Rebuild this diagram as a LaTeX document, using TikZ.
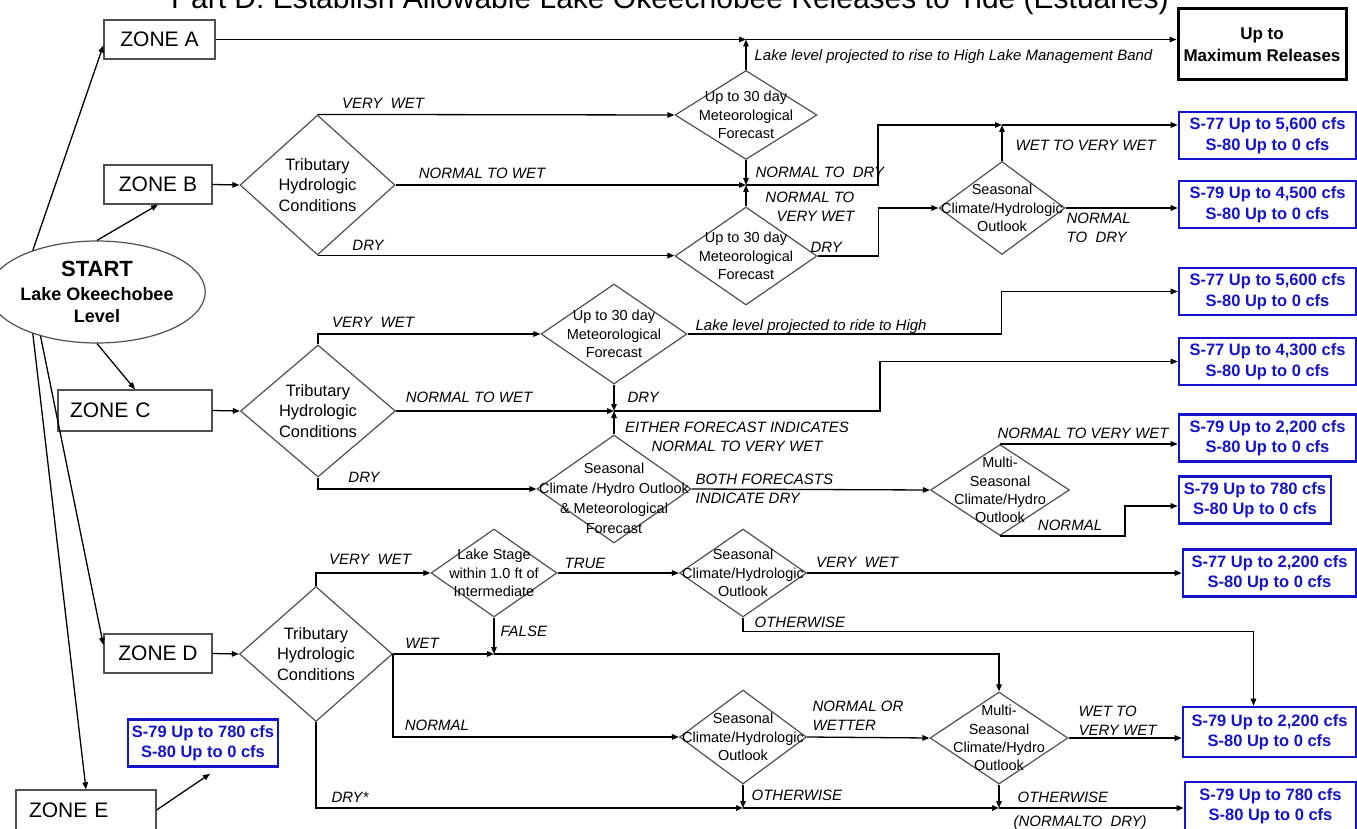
\documentclass[tikz,border=0pt]{standalone}
\usepackage{fontspec}
\setmainfont{Liberation Sans}
\usetikzlibrary{shapes.geometric, positioning, arrows.meta}
\definecolor{relblue}{RGB}{20,20,205}
\definecolor{linegray}{RGB}{80,80,80}
\tikzset{
terminal/.style={ellipse, draw=linegray, line width=1.2pt, minimum width=173pt, minimum height=102pt, inner sep=0, align=center, font=\bfseries\fontsize{18}{22}\selectfont},
zone/.style={shape=rectangle, draw=linegray, line width=1.3pt, minimum height=39pt, inner sep=0, font=\fontsize{21}{24}\selectfont},
decision/.style 2 args={diamond, draw=linegray, line width=1.2pt, minimum width=#1, minimum height=#2, inner sep=0},
dtext/.style={align=center, font=\fontsize{14.5}{18.3}\selectfont},
ttext/.style={align=center, font=\fontsize{16.5}{20.7}\selectfont},
result/.style={draw=relblue, line width=2.6pt, text=relblue, align=center, minimum width=177pt, minimum height=47pt, inner sep=0, font=\bfseries\fontsize{16.5}{20.5}\selectfont},
maxbox/.style={draw, line width=3pt, minimum width=168pt, minimum height=71pt, align=center, font=\bfseries\fontsize{17}{22}\selectfont},
cond/.style={inner sep=0, font=\itshape\fontsize{15}{19}\selectfont}}

\begin{document}
\begin{tikzpicture}[x=1pt, y=-1pt, line width=1.3pt, >={Triangle[length=7pt, width=5.5pt]}]
\fill[white] (0,0) rectangle (1357,829);
\useasboundingbox (0,0) rectangle (1357,829);

\node[anchor=base, font=\fontsize{30}{34}\selectfont] (title) at (670,9) {Part D: Establish Allowable Lake Okeechobee Releases to Tide (Estuaries)};
\node[terminal] (start) at (97,292) {{\fontsize{22}{26}\selectfont START}\\[2pt] Lake Okeechobee\\ Level};

\node[zone, minimum width=111pt] (zone-a) at (159.5,39.5) {ZONE A};
\node[zone, minimum width=108pt] (zone-b) at (158,184.5) {ZONE B};
\node[zone, minimum width=154pt, minimum height=41pt, text width=130pt] (zone-c) at (135,410.5) {ZONE C};
\node[zone, minimum width=108pt] (zone-d) at (158,653.5) {ZONE D};
\node[zone, minimum width=140pt, minimum height=40pt, text width=114pt] (zone-e) at (86,810) {ZONE E};
\node[maxbox] (maxrel) at (1262,44.5) {Up to\\Maximum Releases};

\node[decision={155pt}{140pt}, label={[ttext]center:Tributary\\Hydrologic\\Conditions}] (trib-b) at (317.5,185) {};
\node[decision={142pt}{89pt}, label={[dtext]center:Up to 30 day\\Meteorological\\Forecast}] (met-b1) at (746,115) {};
\node[decision={142pt}{98pt}, label={[dtext]center:Up to 30 day\\Meteorological\\Forecast}] (met-b2) at (746,256) {};
\node[decision={126pt}{93pt}, label={[dtext]center:Seasonal\\Climate/Hydrologic\\Outlook}] (sea-b) at (1002,208) {};
\node[result] (s77-b) at (1267.5,135.5) {S-77 Up to 5,600 cfs\\S-80 Up to 0 cfs};
\node[result] (s79-b) at (1267.5,204.5) {S-79 Up to 4,500 cfs\\S-80 Up to 0 cfs};

\node[decision={155pt}{132pt}, label={[ttext]center:Tributary\\Hydrologic\\Conditions}] (trib-c) at (318,411) {};
\node[decision={146pt}{100pt}, label={[dtext]center:Up to 30 day\\Meteorological\\Forecast}] (met-c) at (614,334) {};
\node[decision={154pt}{108pt}, label={[dtext, font=\fontsize{14.5}{20}\selectfont, yshift=-9pt]center:Seasonal\\Climate /Hydro Outlook\\\& Meteorological\\Forecast}] (sea-c) at (614,489) {};
\node[decision={139pt}{91pt}, label={[dtext]center:Multi-\\Seasonal\\Climate/Hydro\\Outlook}] (multi-c) at (1000,490) {};
\node[result] (s77-c1) at (1267.5,291.5) {S-77 Up to 5,600 cfs\\S-80 Up to 0 cfs};
\node[result] (s77-c2) at (1267.5,361.5) {S-77 Up to 4,300 cfs\\S-80 Up to 0 cfs};
\node[result] (s79-c1) at (1267.5,438) {S-79 Up to 2,200 cfs\\S-80 Up to 0 cfs};
\node[result, minimum width=152pt] (s79-c2) at (1255,500) {S-79 Up to 780 cfs\\S-80 Up to 0 cfs};

\node[decision={153pt}{135pt}, label={[ttext]center:Tributary\\Hydrologic\\Conditions}] (trib-d) at (316,654) {};
\node[decision={126pt}{88pt}, label={[dtext]center:Lake Stage\\within 1.0 ft of\\Intermediate}] (stage-d) at (494,573) {};
\node[decision={127pt}{88pt}, label={[dtext]center:Seasonal\\Climate/Hydrologic\\Outlook}] (sea-d1) at (743,573) {};
\node[decision={127pt}{94pt}, label={[dtext]center:Seasonal\\Climate/Hydrologic\\Outlook}] (sea-d2) at (743,737) {};
\node[decision={138pt}{92pt}, label={[dtext]center:Multi-\\Seasonal\\Climate/Hydro\\Outlook}] (multi-d) at (999,738) {};
\node[result, minimum width=173pt] (s77-d) at (1269.5,573) {S-77 Up to 2,200 cfs\\S-80 Up to 0 cfs};
\node[result, minimum width=173pt, minimum height=50pt] (s79-d1) at (1269.5,732) {S-79 Up to 2,200 cfs\\S-80 Up to 0 cfs};
\node[result, minimum width=171pt, minimum height=48pt] (s79-d2) at (1270.5,806) {S-79 Up to 780 cfs\\S-80 Up to 0 cfs};
\node[result, minimum width=150pt] (s79-e) at (203,743) {S-79 Up to 780 cfs\\S-80 Up to 0 cfs};

\draw[->] (start.147) -- (zone-a.186);
\draw[->] (start.north) -- (zone-b.south);
\draw[->] (start.south) -- (zone-c.north);
\draw[->] (start.218) -- (zone-d.171);
\draw[->] (start.213) -- (zone-e.north);
\draw[->] (zone-e.east) -- ([xshift=7pt, yshift=-6pt]s79-e.south);

\coordinate (ja) at (met-b1.north |- zone-a.east);
\draw[->] (zone-a.east) -- (ja);
\draw[->] (ja) -- (ja -| maxrel.west);
\draw[->] (met-b1.north) -- (ja);
\node[cond, anchor=west] (t-high-a) at (754,57) {Lake level projected to rise to High Lake Management Band};

\coordinate (jb) at (met-b1.south |- trib-b.east);
\coordinate (jb2) at (1002,125);
\draw[->] (zone-b.east) -- (trib-b.west);
\draw[->] (trib-b.north) -- (met-b1.west);
\draw[->] (trib-b.east) -- (jb);
\draw[->] (met-b1.south) -- (jb);
\draw[->] (met-b2.north) -- (jb);
\draw[->] (jb) -- ++(132,0) |- (jb2);
\draw[->] (jb2) -- (jb2 -| s77-b.west);
\draw[->] (sea-b.north) -- (jb2);
\draw[->] (trib-b.south) -- (trib-b.south -| met-b2.west);
\draw[->] (met-b2.east) -- ++(61,0) |- (sea-b.west);
\draw[->] (sea-b.east) -- (sea-b.east -| s79-b.west);
\node[cond] (t-vw-b) at (383,103) {VERY~~WET};
\node[cond] (t-nw-b) at (482,173) {NORMAL TO WET};
\node[cond, anchor=west] (t-nd-b) at (755,172) {NORMAL TO~~DRY};
\node[cond, anchor=east, align=right] (t-nvw-b) at (855,207) {NORMAL TO\\VERY WET};
\node[cond] (t-dry-b) at (368,245) {DRY};
\node[cond, anchor=west] (t-dry-b2) at (810,247) {DRY};
\node[cond, anchor=west] (t-wvw-b) at (1015,145) {WET TO VERY WET};
\node[cond, anchor=west, align=left] (t-ndry-b) at (1066,227.5) {NORMAL\\TO~~DRY};

\coordinate (jc) at (met-c.south |- trib-c.east);
\draw[->] (zone-c.east) -- (trib-c.west);
\draw[->] (trib-c.north) |- (met-c.west);
\draw[->] (trib-c.east) -- (jc);
\draw[->] (met-c.south) -- (jc);
\draw[->] (sea-c.north) -- (jc);
\draw[->] (jc) -- ++(266,0) |- (s77-c2.west);
\draw[->] (met-c.east) -- ++(314,0) |- (s77-c1.west);
\draw[->] (trib-c.south) |- (sea-c.west);
\draw[->] (sea-c.east) -- (multi-c.west);
\draw[->] (multi-c.north) -- (multi-c.north -| s79-c1.west);
\draw[->] (multi-c.south) -- ++(125,0) |- ([yshift=-6pt]s79-c2.west);
\node[cond] (t-vw-c) at (373,322) {VERY~~WET};
\node[cond] (t-nw-c) at (469,397) {NORMAL TO WET};
\node[cond, anchor=west] (t-dry-c) at (627,397) {DRY};
\node[cond, align=center] (t-either-c) at (737,437) {EITHER FORECAST INDICATES\\NORMAL TO VERY WET};
\node[cond, anchor=west] (t-high-c) at (695,327) {Lake level projected to ride to High};
\node[cond] (t-dry-c2) at (364,477) {DRY};
\node[cond, anchor=west, align=left] (t-both-c) at (695,489) {BOTH FORECASTS\\INDICATE DRY};
\node[cond] (t-nvw-c) at (1083,433) {NORMAL TO VERY WET};
\node[cond] (t-norm-c) at (1070,525) {NORMAL};

\coordinate (jd) at (stage-d.south |- trib-d.east);
\coordinate (jd2) at (743,808);
\coordinate (jd3) at (999,808);
\draw[->] (zone-d.east) -- (trib-d.west);
\draw[->] (trib-d.north) |- (stage-d.west);
\draw[->] (stage-d.east) -- (sea-d1.west);
\draw[->] (stage-d.south) -- (jd);
\draw[->] (trib-d.east) -- (jd);
\draw[->] (jd) -| (multi-d.north);
\draw[->] (sea-d1.east) -- (s77-d.west);
\draw[->] (sea-d1.south) -- ++(0,14) -| ([xshift=-16pt]s79-d1.north);
\draw[->] (trib-d.east) |- (sea-d2.west);
\draw[->] (sea-d2.east) -- (multi-d.west);
\draw[->] (multi-d.east) -- (multi-d.east -| s79-d1.west);
\draw[->] (trib-d.south) |- (jd2);
\draw[->] (sea-d2.south) -- (jd2);
\draw[->] (multi-d.south) -- (jd3);
\draw[->] (jd2) -- (jd3);
\draw[->] (jd3) -- (jd3 -| s79-d2.west);
\node[cond] (t-vw-d) at (370,559) {VERY~~WET};
\node[cond] (t-true-d) at (585,563) {TRUE};
\node[cond, anchor=west] (t-false-d) at (500,631) {FALSE};
\node[cond] (t-wet-d) at (422,643) {WET};
\node[cond] (t-vw-d2) at (857,562) {VERY~~WET};
\node[cond, anchor=west] (t-oth-d1) at (754,622) {OTHERWISE};
\node[cond] (t-norm-d) at (437,725) {NORMAL};
\node[cond, anchor=west, align=left] (t-nor-d) at (812,716) {NORMAL OR\\WETTER};
\node[cond, anchor=west, align=left] (t-wvw-d) at (1078,721) {WET TO\\VERY WET};
\node[cond] (t-dry-d) at (350,797) {DRY*};
\node[cond, anchor=west] (t-oth-d2) at (751,795) {OTHERWISE};
\node[cond, anchor=west] (t-oth-d3) at (1017,797) {OTHERWISE};
\node[cond, anchor=west] (t-ntd-d) at (1013,823) {(NORMALTO~~DRY)};
\end{tikzpicture}
\end{document}
